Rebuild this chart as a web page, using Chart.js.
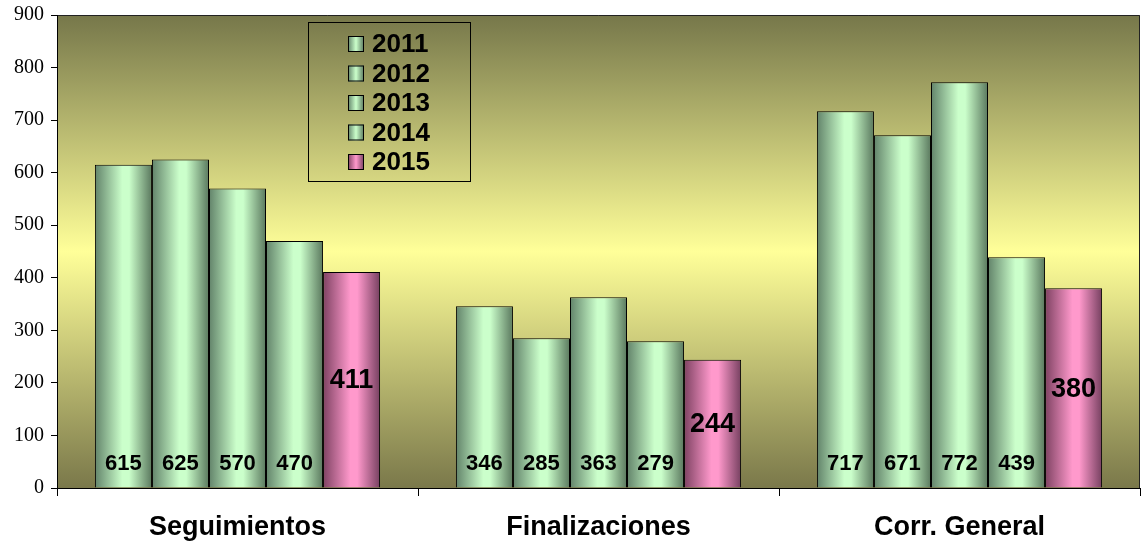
<!DOCTYPE html>
<html>
<head>
<meta charset="utf-8">
<script src="https://cdn.jsdelivr.net/npm/chart.js@4.4.0/dist/chart.umd.min.js"></script>
<style>
  html, body { margin: 0; padding: 0; background: #fff; }
  #wrap { width: 1142px; height: 542px; }
</style>
</head>
<body>
<div id="wrap"><canvas id="grafico"></canvas></div>
<script>
// Datos
const categorias = ["Seguimientos", "Finalizaciones", "Corr. General"];
const anios = ["2011", "2012", "2013", "2014", "2015"];
const v2011 = [615, 346, 717];
const v2012 = [625, 285, 671];
const v2013 = [570, 363, 772];
const v2014 = [470, 279, 439];
const v2015 = [411, 244, 380];
const yTicks = [0, 100, 200, 300, 400, 500, 600, 700, 800, 900];

const verde = ["#62836a", "#cbffcb", "#5a785e"];
const rosa = ["#7e4262", "#ff99cc", "#764060"];

function colores(anio) {
  return anio === "2015" ? rosa : verde;
}

const series = [v2011, v2012, v2013, v2014, v2015];

// Fondo del área del gráfico
const fondo = {
  id: "fondo",
  beforeDraw(chart) {
    const { ctx, chartArea: a } = chart;
    const g = ctx.createLinearGradient(0, a.top, 0, a.bottom);
    g.addColorStop(0, "#76774a");
    g.addColorStop(0.5, "#ffff99");
    g.addColorStop(1, "#7a784a");
    ctx.save();
    ctx.fillStyle = g;
    ctx.fillRect(a.left, a.top, a.right - a.left, a.bottom - a.top);
    ctx.strokeStyle = "#222";
    ctx.lineWidth = 1;
    ctx.beginPath();
    ctx.moveTo(a.left, a.top + 0.5);
    ctx.lineTo(a.right - 0.5, a.top + 0.5);
    ctx.lineTo(a.right - 0.5, a.bottom);
    ctx.stroke();
    ctx.restore();
  }
};

// Degradado horizontal en cada barra
const cilindro = {
  id: "cilindro",
  beforeDatasetsDraw(chart) {
    const ctx = chart.ctx;
    chart.data.datasets.forEach((ds, i) => {
      const c = colores(ds.label);
      chart.getDatasetMeta(i).data.forEach((bar) => {
        const x0 = bar.x - bar.width / 2;
        const g = ctx.createLinearGradient(x0, 0, x0 + bar.width, 0);
        g.addColorStop(0, c[0]);
        g.addColorStop(0.48, c[1]);
        g.addColorStop(0.6, c[1]);
        g.addColorStop(1, c[2]);
        bar.options = Object.assign({}, bar.options, { backgroundColor: g });
      });
    });
  },
  afterDatasetsDraw(chart) {
    const ctx = chart.ctx;
    const base = chart.scales.y.getPixelForValue(0);
    ctx.save();
    ctx.fillStyle = "#000";
    ctx.textAlign = "center";
    ctx.textBaseline = "middle";
    chart.data.datasets.forEach((ds, i) => {
      chart.getDatasetMeta(i).data.forEach((bar, j) => {
        if (ds.label === "2015") {
          ctx.font = "bold 27px 'Liberation Sans', Arial, sans-serif";
          ctx.fillText(ds.data[j], bar.x, (bar.y + base) / 2 + 1);
        } else {
          ctx.font = "bold 22px 'Liberation Sans', Arial, sans-serif";
          ctx.fillText(ds.data[j], bar.x, base - 24);
        }
      });
    });
    ctx.restore();
  }
};

// Leyenda dentro del gráfico
const leyenda = {
  id: "leyenda",
  afterDraw(chart) {
    const ctx = chart.ctx;
    ctx.save();
    ctx.strokeStyle = "#000";
    ctx.lineWidth = 1;
    ctx.strokeRect(308.5, 22.5, 162, 159);
    ctx.font = "bold 26px 'Liberation Sans', Arial, sans-serif";
    ctx.textBaseline = "middle";
    chart.data.datasets.forEach((ds, i) => {
      const y = 44 + i * 29.5;
      const c = colores(ds.label);
      const g = ctx.createLinearGradient(348, 0, 364, 0);
      g.addColorStop(0, c[0]);
      g.addColorStop(0.5, c[1]);
      g.addColorStop(1, c[2]);
      ctx.fillStyle = g;
      ctx.fillRect(348, y - 8, 16, 16);
      ctx.strokeRect(348.5, y - 7.5, 15, 15);
      ctx.fillStyle = "#000";
      ctx.fillText(ds.label, 372, y + 1);
    });
    ctx.restore();
  }
};

new Chart(document.getElementById("grafico"), {
  type: "bar",
  data: {
    labels: categorias,
    datasets: anios.map((a, i) => ({
      label: a,
      data: series[i],
      backgroundColor: () => colores(a)[1],
      borderColor: "#000",
      borderWidth: 1,
      borderSkipped: "bottom",
      barPercentage: 1,
      categoryPercentage: 0.79
    }))
  },
  options: {
    responsive: true,
    maintainAspectRatio: false,
    animation: false,
    layout: { padding: { top: 15, right: 2, left: 0, bottom: 0 } },
    plugins: {
      legend: { display: false },
      tooltip: { enabled: false }
    },
    scales: {
      x: {
        afterFit(scale) { scale.height = 54; },
        border: { color: "#000", width: 1 },
        grid: {
          offset: true,
          drawOnChartArea: false,
          color: "#000",
          tickLength: 8
        },
        ticks: {
          color: "#000",
          padding: 15,
          font: { family: "'Liberation Sans', Arial, sans-serif", size: 27, weight: "bold" }
        }
      },
      y: {
        min: 0,
        max: 900,
        afterFit(scale) {
          scale.width = 57;
          scale.paddingTop = 0;
          scale.paddingBottom = 0;
        },
        afterBuildTicks(scale) { scale.ticks = yTicks.map((v) => ({ value: v })); },
        border: { color: "#000", width: 1 },
        grid: {
          drawOnChartArea: false,
          color: "#000",
          tickLength: 6
        },
        ticks: {
          color: "#000",
          padding: 7,
          font: { family: "'Liberation Serif', 'Times New Roman', serif", size: 20 }
        }
      }
    }
  },
  plugins: [fondo, cilindro, leyenda]
});
</script>
</body>
</html>
